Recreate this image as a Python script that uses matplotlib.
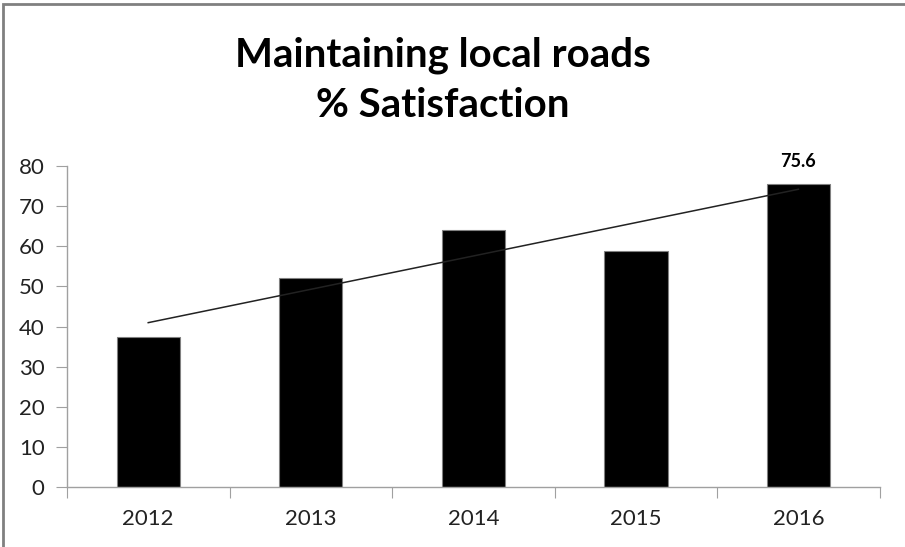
import numpy as np
import matplotlib.pyplot as plt
from matplotlib.patches import Rectangle

# survey results, % satisfied with local road maintenance
years = ['2012', '2013', '2014', '2015', '2016']
satisfaction = [37.4, 52.1, 64.0, 58.8, 75.6]
y_ticks = [0, 10, 20, 30, 40, 50, 60, 70, 80]

plt.rcParams['font.family'] = ['Lato', 'DejaVu Sans']

fig = plt.figure(figsize=(9.05, 5.47), dpi=100)
ax = fig.add_axes([0.074, 0.1097, 0.898, 0.5868])

x = np.arange(len(years))
ax.bar(x, satisfaction, width=0.39, color='black', edgecolor='#808080', linewidth=0.8, zorder=2)

# linear trend through the yearly values
slope, intercept = np.polyfit(x, satisfaction, 1)
ax.plot(x, slope * x + intercept, color='#222222', linewidth=1.1, zorder=3)

# label the latest year only
ax.text(x[-1], satisfaction[-1] + 3.3, f'{satisfaction[-1]:.1f}', ha='center', va='bottom',
        fontsize=13, fontweight='bold', color='black')

ax.set_xlim(-0.5, len(years) - 0.5)
ax.set_ylim(0, 80)
ax.set_yticks(y_ticks)
ax.set_yticklabels([str(v) for v in y_ticks], fontsize=16, color='#222222')

# category boundary ticks on the x axis, labels in the middle
ax.set_xticks(np.arange(len(years) + 1) - 0.5)
ax.set_xticklabels([])
ax.set_xticks(x, minor=True)
ax.set_xticklabels(years, minor=True, fontsize=16, color='#222222')
ax.tick_params(axis='x', which='minor', length=0, pad=16)
ax.tick_params(axis='x', which='major', length=8, color='#a0a0a0', direction='out')
ax.tick_params(axis='y', length=8, color='#a0a0a0', direction='out', pad=8)

for side in ['top', 'right']:
    ax.spines[side].set_visible(False)
for side in ['left', 'bottom']:
    ax.spines[side].set_color('#a0a0a0')
    ax.spines[side].set_linewidth(1.0)

fig.text(0.489, 0.899, 'Maintaining local roads', ha='center', va='center',
         fontsize=29, fontweight='bold', color='black')
fig.text(0.489, 0.808, '% Satisfaction', ha='center', va='center',
         fontsize=29, fontweight='bold', color='black')

# outer chart frame
fig.patches.append(Rectangle((0.003, -0.05), 1.05, 1.043, transform=fig.transFigure,
                             fill=False, edgecolor='#808080', linewidth=2.0))

fig.savefig('out.png', dpi=100)
